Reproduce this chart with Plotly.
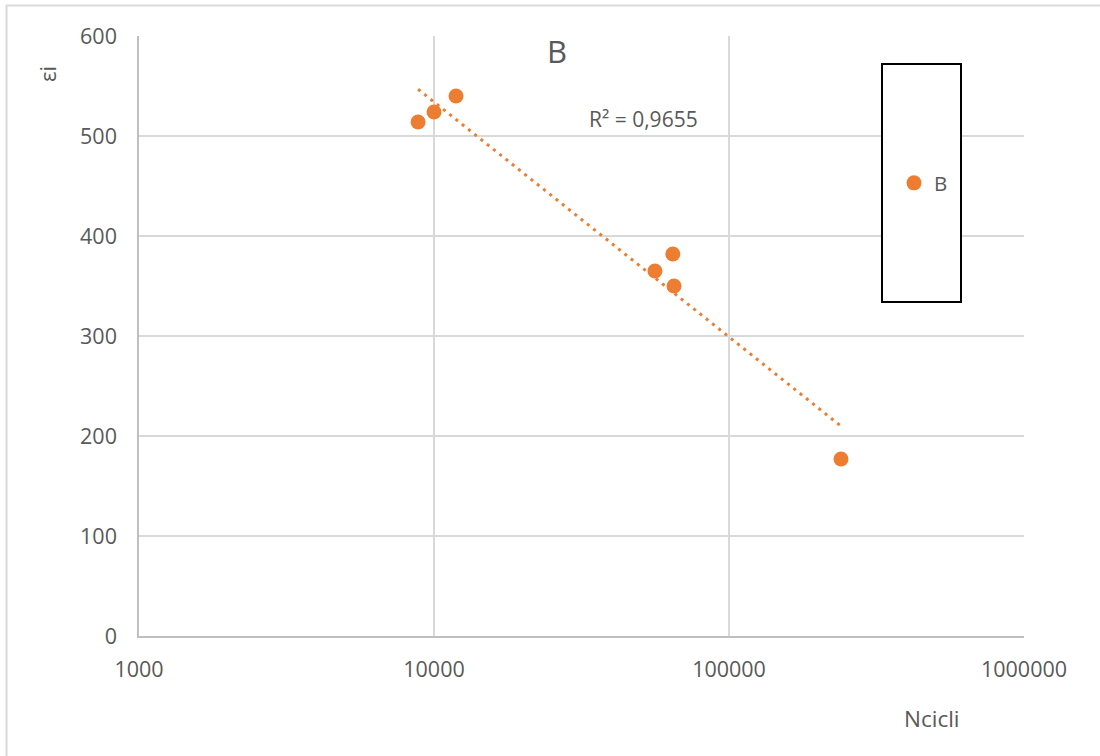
import numpy as np
import plotly.graph_objects as go

# Fatigue data, series B: number of cycles vs strain
n_cicli = [8830, 10000, 11875, 56100, 64500, 65100, 239700]
eps_i = [514, 524, 540, 365, 382, 350, 177]

x_ticks = [1000, 10000, 100000, 1000000]
x_tick_text = ["1000", "10000", "100000", "1000000"]
y_ticks = [0, 100, 200, 300, 400, 500, 600]

ORANGE = "#ED7D31"
TEXT = "#595959"
GRID = "#D9D9D9"
FONT = "Open Sans"

# logarithmic trend line y = a*ln(x) + b
lx = np.log(np.array(n_cicli, dtype=float))
yv = np.array(eps_i, dtype=float)
a, b = np.polyfit(lx, yv, 1)
x_fit = np.array([min(n_cicli), max(n_cicli)], dtype=float)
y_fit = a * np.log(x_fit) + b

W, H = 1100, 756
L, R, T, B = 139, 76, 36, 120
pw, ph = W - L - R, H - T - B


def px(xp):
    return (xp - L) / pw


def py(yp):
    return (H - B - yp) / ph


fig = go.Figure()
fig.add_trace(go.Scatter(
    x=x_fit, y=y_fit, mode="lines", showlegend=False, hoverinfo="skip",
    line=dict(color=ORANGE, width=3, dash="3px,5px"),
))
fig.add_trace(go.Scatter(
    x=n_cicli, y=eps_i, mode="markers", name="B",
    marker=dict(color=ORANGE, size=15, line=dict(width=0)),
))

fig.update_layout(
    width=W, height=H,
    margin=dict(l=L, r=R, t=T, b=B, pad=0),
    paper_bgcolor="white", plot_bgcolor="white",
    font=dict(family=FONT, color=TEXT, size=20),
    xaxis=dict(
        type="log", range=[3, 6], tickvals=x_ticks, ticktext=x_tick_text,
        showgrid=True, gridcolor=GRID, gridwidth=1.5,
        showline=True, linecolor="#BFBFBF", linewidth=1.5,
        ticks="", zeroline=False, ticklabelstandoff=13,
        tickfont=dict(family=FONT, size=21.5, color=TEXT),
    ),
    yaxis=dict(
        range=[0, 600], tickvals=y_ticks,
        showgrid=True, gridcolor=GRID, gridwidth=1.5,
        showline=True, linecolor="#BFBFBF", linewidth=1.5,
        ticks="", zeroline=False, ticklabelstandoff=16,
        tickfont=dict(family=FONT, size=21.5, color=TEXT),
    ),
    legend=dict(
        x=px(894), y=py(183), xanchor="left", yanchor="middle",
        bgcolor="rgba(0,0,0,0)", borderwidth=0,
        font=dict(family=FONT, size=20.5, color=TEXT),
    ),
    shapes=[
        # outer chart frame
        dict(type="rect", xref="paper", yref="paper",
             x0=px(6.5), x1=px(1110), y0=py(770), y1=py(5.5),
             line=dict(color=GRID, width=2), layer="below"),
        # legend frame
        dict(type="rect", xref="paper", yref="paper",
             x0=px(882), x1=px(961), y0=py(302), y1=py(64),
             line=dict(color="black", width=2), fillcolor="white", layer="above"),
    ],
    annotations=[
        dict(text="B", xref="paper", yref="paper", x=px(557), y=py(51),
             xanchor="center", yanchor="middle", showarrow=False,
             font=dict(family=FONT, size=31, color=TEXT)),
        dict(text="R² = 0,9655", xref="paper", yref="paper", x=px(587), y=py(119),
             xanchor="left", yanchor="middle", showarrow=False,
             font=dict(family=FONT, size=21, color=TEXT)),
        dict(text="εi", xref="paper", yref="paper", x=px(47), y=py(74),
             xanchor="center", yanchor="middle", showarrow=False, textangle=-90,
             font=dict(family=FONT, size=22, color=TEXT)),
        dict(text="Ncicli", xref="paper", yref="paper", x=px(932), y=py(718),
             xanchor="center", yanchor="middle", showarrow=False,
             font=dict(family=FONT, size=22.5, color=TEXT)),
    ],
)

fig.write_html("out.html")
